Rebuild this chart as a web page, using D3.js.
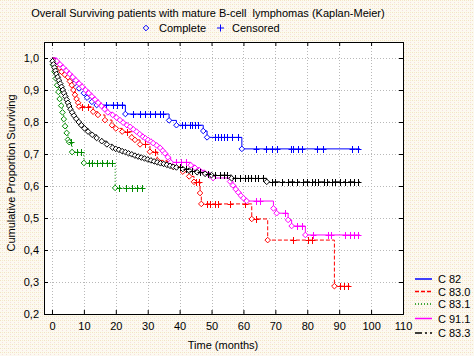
<!DOCTYPE html>
<html><head><meta charset="utf-8">
<script src="https://cdnjs.cloudflare.com/ajax/libs/d3/7.8.5/d3.min.js"></script>
<style>
html,body{margin:0;padding:0;background:#faf4e8;}
svg{display:block;font-family:"Liberation Sans",Arial,sans-serif;}
</style></head>
<body><svg id="chart" width="474" height="356"></svg>
<script>
// ---------- DATA ----------
const titleText = "Overall Surviving patients with mature B-cell  lymphomas (Kaplan-Meier)";
const xLabel = "Time (months)";
const yLabel = "Cumulative Proportion Surviving";
const xTicks = [0,10,20,30,40,50,60,70,80,90,100,110];
const yTicks = [0.2,0.3,0.4,0.5,0.6,0.7,0.8,0.9,1.0];
const seriesNames = ["C 82","C 83.0","C 83.1","C 91.1","C 83.3"];
const seriesColors = ["#0000ff","#ff0000","#008a00","#ff00ff","#000000"];
const seriesDash = ["none","4,2","1,2","none","7,3,2,3"];

// events: [time, survival after event]; censored: times
const c82Events = [[1,0.99],[2,0.98],[3,0.97],[4,0.96],[5,0.95],[6,0.935],[7,0.92],[8.5,0.905],[10,0.89],[11,0.876],[12.5,0.863],[14,0.853],[23,0.825],[36.7,0.805],[39,0.79],[47.4,0.772],[48.6,0.752],[59.5,0.716]];
const c82Censored = [17,19,20.5,22,25.4,27.6,29.2,30.7,32.3,33.9,34.8,40.6,41.7,43.3,43.8,44.8,45.8,51,52,53,54,55,56.4,58.3,64,67,69,70.5,75,75.5,77,78.5,83,85,94,96];
const c82End = 96.5;

const c830Events = [[0.8,0.99],[1.6,0.98],[2.4,0.97],[3,0.957],[4,0.948],[5,0.94],[5.6,0.927],[6.2,0.915],[6.7,0.9],[7.2,0.885],[7.7,0.872],[8.2,0.86],[8.5,0.848],[12.9,0.832],[14.4,0.822],[16.6,0.806],[18.8,0.79],[20,0.78],[22,0.77],[25,0.752],[26,0.744],[27.6,0.73],[30.7,0.707],[33,0.68],[36,0.67],[38,0.66],[41,0.645],[43,0.63],[44.5,0.613],[46.4,0.578],[46.8,0.544],[62.6,0.497],[67.6,0.431],[88.5,0.287]];
const c830Censored = [9.3,11.4,23.5,29.2,32.3,45,46,48.5,49.5,51,52,55.8,60.5,64,75.6,80.3,81.6,90.3,91.5,92.9];
const c830End = 93.4;

const c831Events = [[0.3,0.979],[0.8,0.957],[1.2,0.936],[1.6,0.915],[2,0.894],[2.4,0.872],[2.9,0.851],[3.3,0.83],[3.7,0.809],[4.1,0.787],[4.6,0.766],[5,0.745],[5.4,0.737],[6.3,0.706],[10,0.672],[19.8,0.594]];
const c831Censored = [6,7.8,9,11.6,12.5,14,15.7,17.2,18.8,21,23.2,25,26.6,28.2];
const c831End = 28.5;

const c911Events = [[1.5,0.99],[2.5,0.98],[3.5,0.97],[4.5,0.96],[5.5,0.95],[6.5,0.94],[7.5,0.93],[8.5,0.92],[9.5,0.91],[10.5,0.9],[11.5,0.89],[12.5,0.88],[13.5,0.87],[14.5,0.86],[15.5,0.85],[16.5,0.84],[17.5,0.83],[19,0.822],[20.2,0.814],[21.3,0.806],[22.3,0.798],[23.5,0.79],[24.5,0.785],[25.5,0.777],[26.5,0.77],[27.5,0.762],[28.5,0.754],[29.3,0.749],[30.1,0.744],[31,0.739],[31.7,0.734],[32.8,0.727],[33.9,0.719],[34.7,0.71],[35.4,0.702],[36.3,0.69],[37.2,0.674],[43.5,0.665],[44.8,0.657],[46.2,0.649],[47.8,0.641],[49.5,0.633],[50.5,0.625],[55.8,0.614],[56.7,0.602],[57.6,0.59],[58.4,0.58],[59.2,0.57],[60,0.562],[61,0.553],[69.4,0.53],[70.4,0.515],[74,0.494],[75.1,0.475],[79.4,0.447]];
const c911Censored = [39,40.5,42,64,65.2,73,76.7,78.3,81.7,86.6,87.4,91.8,93.4,94.8,96];
const c911End = 96.5;

const c833Events = [[0.2,0.99],[0.5,0.98],[0.8,0.97],[1.1,0.96],[1.4,0.95],[1.8,0.94],[2.2,0.93],[2.6,0.92],[3,0.91],[3.4,0.9],[3.8,0.89],[4.2,0.88],[4.6,0.87],[5,0.86],[5.4,0.85],[5.8,0.84],[6.3,0.83],[6.9,0.82],[7.6,0.81],[8.4,0.8],[9.2,0.79],[10.2,0.78],[11.3,0.77],[12.6,0.76],[14,0.75],[15.6,0.74],[17.2,0.73],[19,0.72],[20,0.716],[21,0.713],[22,0.709],[23,0.706],[24,0.702],[25,0.699],[26,0.695],[27,0.692],[28,0.689],[29,0.686],[30,0.683],[31,0.68],[32,0.677],[33,0.674],[34,0.671],[35,0.669],[36,0.666],[37,0.663],[38,0.66],[39,0.658],[41,0.653],[43,0.648],[45.5,0.643],[48,0.638],[50,0.634],[56.3,0.624],[67.3,0.613]];
const c833Censored = [40,42,44,46.5,49,51,52.5,54,55,57.4,59,60.5,61.5,62.5,63.5,64.5,66,68.9,69.9,72,74.1,75.2,76.7,78.8,79.9,81.4,82.4,83.5,85.1,86.2,87.7,88.7,90.3,91.8,93.4,94.5,96];
const c833End = 96.5;

const allEvents = [c82Events,c830Events,c831Events,c911Events,c833Events];
const allCensored = [c82Censored,c830Censored,c831Censored,c911Censored,c833Censored];
const allEnds = [c82End,c830End,c831End,c911End,c833End];

// ---------- CHART ----------
const svg = d3.select("#chart");
const defs = svg.append("defs");
const pat = defs.append("pattern").attr("id","bg").attr("width",4).attr("height",4).attr("patternUnits","userSpaceOnUse");
pat.append("rect").attr("width",4).attr("height",4).attr("fill","#fcf9f0");
pat.append("rect").attr("x",0).attr("y",0).attr("width",1).attr("height",1).attr("fill","#f2e2c4");
pat.append("rect").attr("x",2).attr("y",2).attr("width",1).attr("height",1).attr("fill","#f6dede");
pat.append("rect").attr("x",2).attr("y",0).attr("width",1).attr("height",1).attr("fill","#f4ecc8");
svg.append("rect").attr("width",474).attr("height",356).attr("fill","url(#bg)");

const x = d3.scaleLinear().domain([-2.5,110]).range([44,403]);
const y = d3.scaleLinear().domain([0.2,1.05]).range([314,42]);

svg.append("rect").attr("x",44).attr("y",42).attr("width",359).attr("height",272).attr("fill","#ffffff");

// grid
const grid = svg.append("g").attr("stroke","#b8b8b8").attr("stroke-dasharray","1,2").attr("stroke-width",1);
grid.selectAll("line.v").data(xTicks.filter(d=>d<110)).join("line")
  .attr("x1",d=>Math.round(x(d))+0.5).attr("x2",d=>Math.round(x(d))+0.5).attr("y1",42).attr("y2",314);
grid.selectAll("line.h").data(yTicks.filter(d=>d>0.2)).join("line")
  .attr("y1",d=>Math.round(y(d))+0.5).attr("y2",d=>Math.round(y(d))+0.5).attr("x1",44).attr("x2",403);

// axes
const fmt = d => d3.format(".1f")(d).replace(".",",");
const axB = svg.append("g").attr("transform","translate(0,314)")
  .call(d3.axisBottom(x).tickValues(xTicks).tickSize(-4).tickPadding(8).tickFormat(d3.format("d")));
const axL = svg.append("g").attr("transform","translate(44,0)")
  .call(d3.axisLeft(y).tickValues(yTicks).tickSize(-4).tickPadding(5).tickFormat(fmt));
const axT = svg.append("g").attr("transform","translate(0,42)")
  .call(d3.axisTop(x).tickValues(xTicks).tickSize(-4).tickFormat(""));
const axR = svg.append("g").attr("transform","translate(403,0)")
  .call(d3.axisRight(y).tickValues(yTicks).tickSize(-4).tickFormat(""));
[axB,axL,axT,axR].forEach(a=>{
  a.select(".domain").attr("stroke","#000");
  a.selectAll(".tick line").attr("stroke","#000");
  a.selectAll("text").attr("font-size",11).attr("fill","#000").attr("font-family","Liberation Sans, Arial, sans-serif");
});

// series
const line = d3.line().x(d=>x(d[0])).y(d=>y(d[1])).curve(d3.curveStepAfter);
function survAt(ev,t){let s=1;for(const e of ev){if(e[0]<=t)s=e[1];}return s;}
const diamond = d3.symbol().type(d3.symbolDiamond2).size(20);

allEvents.forEach((ev,i)=>{
  const col = seriesColors[i];
  const pts = [[0,1]].concat(ev);
  pts.push([allEnds[i], ev[ev.length-1][1]]);
  const g = svg.append("g");
  g.append("path").attr("d",line(pts)).attr("fill","none").attr("stroke",col)
    .attr("stroke-width",1).attr("stroke-dasharray",seriesDash[i]==="none"?null:seriesDash[i]);
  g.selectAll("path.m").data(ev).join("path").attr("class","m")
    .attr("transform",d=>`translate(${x(d[0])},${y(d[1])})`)
    .attr("d",diamond).attr("fill","#fff").attr("stroke",col).attr("stroke-width",1);
  g.selectAll("path.c").data(allCensored[i]).join("path").attr("class","c")
    .attr("d",t=>{const px=Math.round(x(t))+0.5, py=Math.round(y(survAt(ev,t)))+0.5;
      return `M${px},${py-3.5}V${py+3.5}M${px-3},${py}H${px+3}`;})
    .attr("stroke",col).attr("stroke-width",1).attr("fill","none");
});

// titles
svg.append("text").attr("x",208).attr("y",17).attr("text-anchor","middle").attr("font-size",11)
  .style("white-space","pre").text(titleText);
svg.append("path").attr("transform","translate(146,28)").attr("d",diamond)
  .attr("fill","none").attr("stroke","#0000ff");
svg.append("text").attr("x",159).attr("y",32).attr("font-size",11).text("Complete");
svg.append("path").attr("d","M220.5,24.5V31.5M217,28H224").attr("stroke","#0000ff").attr("fill","none");
svg.append("text").attr("x",232).attr("y",32).attr("font-size",11).text("Censored");
svg.append("text").attr("x",223).attr("y",349).attr("text-anchor","middle").attr("font-size",11).text(xLabel);
svg.append("text").attr("transform","translate(15,173) rotate(-90)").attr("text-anchor","middle").attr("font-size",11).text(yLabel);

// legend
const legY = [279,291.5,304,318.5,333];
const lg = svg.append("g");
seriesNames.forEach((n,i)=>{
  lg.append("line").attr("x1",415).attr("x2",432).attr("y1",legY[i]).attr("y2",legY[i])
    .attr("stroke",seriesColors[i]).attr("stroke-width",1.5)
    .attr("stroke-dasharray",seriesDash[i]==="none"?null:seriesDash[i]);
  lg.append("text").attr("x",438).attr("y",legY[i]+4).attr("font-size",11).text(n);
});
</script></body></html>
